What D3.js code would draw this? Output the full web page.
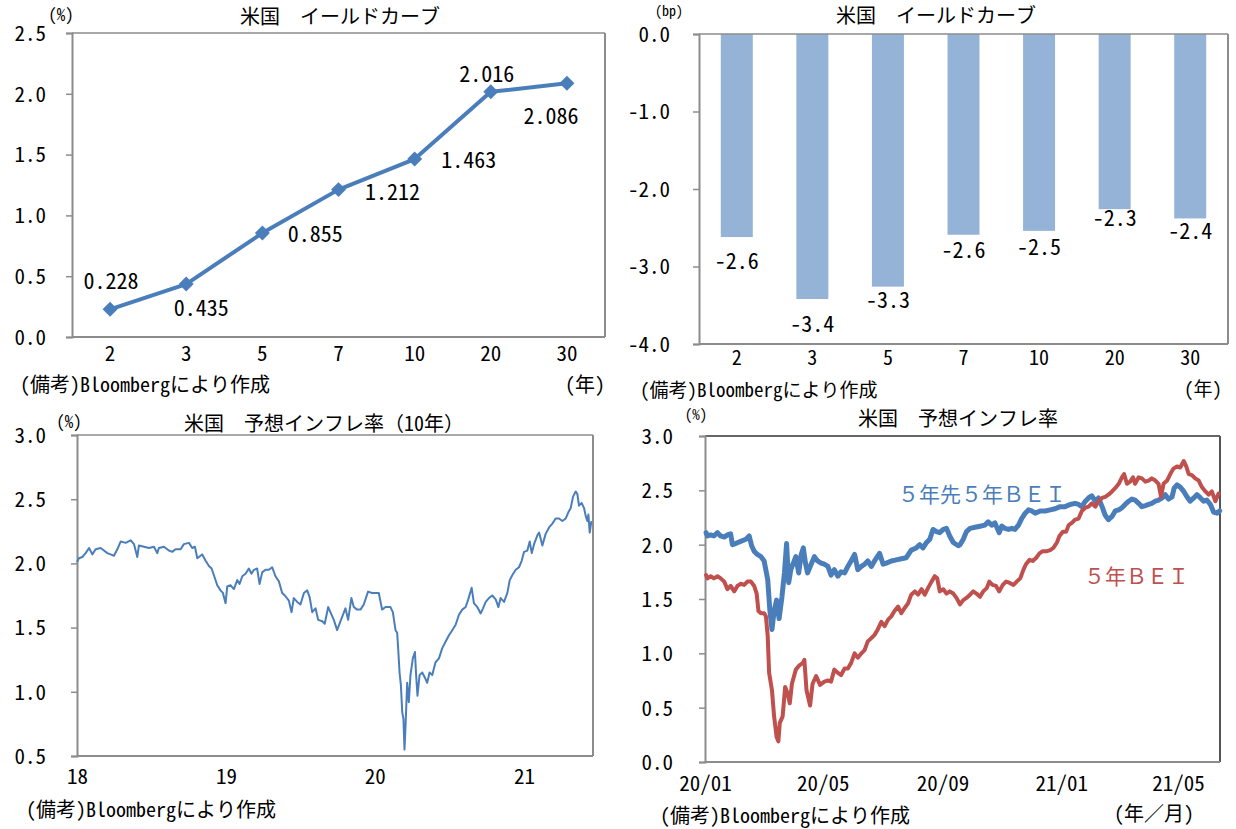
<!DOCTYPE html>
<html>
<head>
<meta charset="utf-8">
<script src="https://cdn.jsdelivr.net/npm/d3@7"></script>
<style>
body { margin: 0; background: #fff; }
svg text { font-family: "Noto Sans Mono CJK JP", "Noto Sans CJK JP", sans-serif; fill: #000; }
</style>
</head>
<body>
<svg id="chart" width="1236" height="829"></svg>
<script>
// ---- data ----
var maturities = ['2', '3', '5', '7', '10', '20', '30'];
var yieldLevel = [0.228, 0.435, 0.855, 1.212, 1.463, 2.016, 2.086];
var yieldChange = [-2.62, -3.42, -3.26, -2.59, -2.54, -2.26, -2.38];
var levelTicks = [0, 0.5, 1, 1.5, 2, 2.5];
var changeTicks = [0, -1, -2, -3, -4];
var bei10Ticks = [0.5, 1, 1.5, 2, 2.5, 3];
var bei5Ticks = [0, 0.5, 1, 1.5, 2, 2.5, 3];
var yearTickLabels = ['18', '19', '20', '21'];
var monthTickLabels = ['20/01', '20/05', '20/09', '21/01', '21/05'];

// 10y breakeven, time in decimal years
var bei10Time = [2018.000, 2018.013, 2018.036, 2018.058, 2018.081, 2018.103, 2018.125, 2018.159, 2018.181, 2018.204,
  2018.226, 2018.248, 2018.271, 2018.293, 2018.327, 2018.360, 2018.383, 2018.405, 2018.416, 2018.450,
  2018.483, 2018.517, 2018.539, 2018.550, 2018.584, 2018.617, 2018.640, 2018.662, 2018.696, 2018.718,
  2018.752, 2018.774, 2018.792, 2018.808, 2018.841, 2018.864, 2018.886, 2018.904, 2018.919, 2018.942,
  2018.964, 2018.980, 2018.998, 2019.009, 2019.031, 2019.054, 2019.076, 2019.092, 2019.110, 2019.132,
  2019.154, 2019.172, 2019.188, 2019.210, 2019.226, 2019.244, 2019.266, 2019.289, 2019.311, 2019.333,
  2019.356, 2019.378, 2019.396, 2019.423, 2019.441, 2019.456, 2019.479, 2019.501, 2019.524, 2019.546,
  2019.562, 2019.580, 2019.602, 2019.620, 2019.647, 2019.664, 2019.687, 2019.702, 2019.725, 2019.747,
  2019.770, 2019.803, 2019.821, 2019.843, 2019.859, 2019.881, 2019.904, 2019.926, 2019.955, 2019.982,
  2020.004, 2020.027, 2020.049, 2020.072, 2020.105, 2020.121, 2020.139, 2020.150, 2020.157, 2020.166,
  2020.175, 2020.184, 2020.192, 2020.199, 2020.206, 2020.217, 2020.228, 2020.239, 2020.255, 2020.269,
  2020.277, 2020.286, 2020.300, 2020.318, 2020.336, 2020.351, 2020.367, 2020.385, 2020.407, 2020.430,
  2020.452, 2020.474, 2020.497, 2020.519, 2020.541, 2020.564, 2020.586, 2020.609, 2020.626, 2020.649,
  2020.664, 2020.687, 2020.709, 2020.725, 2020.743, 2020.765, 2020.787, 2020.810, 2020.828, 2020.843,
  2020.866, 2020.888, 2020.904, 2020.922, 2020.944, 2020.966, 2020.984, 2021.000, 2021.022, 2021.038,
  2021.052, 2021.067, 2021.090, 2021.101, 2021.123, 2021.145, 2021.168, 2021.190, 2021.212, 2021.235,
  2021.257, 2021.280, 2021.298, 2021.313, 2021.329, 2021.347, 2021.358, 2021.369, 2021.387, 2021.403,
  2021.414, 2021.425, 2021.432, 2021.441, 2021.452];
var bei10Value = [2.01, 2.04, 2.05, 2.08, 2.12, 2.07, 2.11, 2.12, 2.10, 2.08,
  2.07, 2.06, 2.11, 2.17, 2.16, 2.18, 2.15, 2.05, 2.14, 2.13,
  2.12, 2.13, 2.08, 2.12, 2.13, 2.10, 2.09, 2.11, 2.11, 2.15,
  2.16, 2.12, 2.13, 2.04, 2.07, 2.02, 1.98, 1.96, 1.91, 1.83,
  1.79, 1.77, 1.69, 1.82, 1.83, 1.80, 1.87, 1.84, 1.90, 1.92,
  1.96, 1.92, 1.95, 1.96, 1.84, 1.93, 1.95, 1.95, 1.97, 1.90,
  1.86, 1.77, 1.75, 1.71, 1.62, 1.73, 1.70, 1.68, 1.77, 1.79,
  1.74, 1.62, 1.65, 1.56, 1.55, 1.53, 1.66, 1.62, 1.56, 1.48,
  1.55, 1.65, 1.56, 1.73, 1.66, 1.64, 1.64, 1.68, 1.78, 1.77,
  1.77, 1.77, 1.64, 1.66, 1.66, 1.62, 1.48, 1.46, 1.33, 1.15,
  1.05, 0.84, 0.79, 0.55, 0.73, 1.07, 0.92, 1.13, 1.26, 1.31,
  1.13, 0.97, 1.13, 1.15, 1.11, 1.07, 1.15, 1.13, 1.23, 1.26,
  1.34, 1.39, 1.44, 1.48, 1.52, 1.60, 1.64, 1.66, 1.72, 1.81,
  1.69, 1.66, 1.61, 1.65, 1.70, 1.73, 1.75, 1.72, 1.66, 1.73,
  1.70, 1.77, 1.87, 1.91, 1.95, 1.97, 2.02, 2.09, 2.10, 2.17,
  2.08, 2.15, 2.22, 2.24, 2.14, 2.23, 2.28, 2.31, 2.35, 2.35,
  2.33, 2.35, 2.40, 2.43, 2.52, 2.56, 2.54, 2.45, 2.47, 2.43,
  2.37, 2.33, 2.38, 2.24, 2.33];

// 5y5y forward breakeven
var fwdTime = [2020.003, 2020.007, 2020.016, 2020.025, 2020.035, 2020.044, 2020.054, 2020.063, 2020.072, 2020.077,
  2020.086, 2020.100, 2020.115, 2020.124, 2020.131, 2020.138, 2020.147, 2020.157, 2020.166, 2020.176,
  2020.182, 2020.188, 2020.194, 2020.201, 2020.208, 2020.216, 2020.223, 2020.229, 2020.235, 2020.241,
  2020.248, 2020.255, 2020.263, 2020.270, 2020.276, 2020.282, 2020.288, 2020.298, 2020.307, 2020.316,
  2020.326, 2020.335, 2020.345, 2020.354, 2020.363, 2020.373, 2020.382, 2020.392, 2020.401, 2020.410,
  2020.420, 2020.429, 2020.439, 2020.448, 2020.457, 2020.467, 2020.476, 2020.490, 2020.500, 2020.509,
  2020.523, 2020.537, 2020.551, 2020.565, 2020.579, 2020.593, 2020.603, 2020.612, 2020.622, 2020.631,
  2020.640, 2020.650, 2020.659, 2020.669, 2020.678, 2020.687, 2020.697, 2020.711, 2020.716, 2020.725,
  2020.734, 2020.744, 2020.758, 2020.772, 2020.786, 2020.795, 2020.805, 2020.814, 2020.826, 2020.833,
  2020.842, 2020.852, 2020.861, 2020.870, 2020.880, 2020.889, 2020.899, 2020.908, 2020.917, 2020.927,
  2020.941, 2020.955, 2020.969, 2020.983, 2020.997, 2021.011, 2021.025, 2021.039, 2021.049, 2021.058,
  2021.068, 2021.077, 2021.086, 2021.096, 2021.105, 2021.115, 2021.124, 2021.133, 2021.143, 2021.152,
  2021.162, 2021.171, 2021.180, 2021.190, 2021.199, 2021.208, 2021.218, 2021.227, 2021.237, 2021.246,
  2021.255, 2021.265, 2021.274, 2021.284, 2021.293, 2021.302, 2021.312, 2021.318, 2021.326, 2021.335,
  2021.345, 2021.354, 2021.363, 2021.373, 2021.382, 2021.392, 2021.401, 2021.410, 2021.420, 2021.429,
  2021.439, 2021.446];
var fwdValue = [2.11, 2.08, 2.09, 2.08, 2.11, 2.08, 2.07, 2.09, 2.10, 2.00,
  2.01, 2.03, 2.05, 2.08, 1.99, 1.94, 1.91, 1.89, 1.85, 1.68,
  1.40, 1.22, 1.39, 1.49, 1.32, 1.52, 1.74, 2.01, 1.65, 1.77,
  1.83, 1.89, 1.74, 1.91, 1.97, 1.83, 1.74, 1.82, 1.89, 1.85,
  1.83, 1.82, 1.80, 1.72, 1.77, 1.71, 1.75, 1.74, 1.80, 1.85,
  1.91, 1.77, 1.80, 1.82, 1.85, 1.80, 1.85, 1.92, 1.82, 1.83,
  1.85, 1.86, 1.87, 1.88, 1.95, 1.97, 2.00, 1.97, 2.02, 2.05,
  2.14, 2.12, 2.11, 2.14, 2.15, 2.08, 2.02, 1.99, 2.00, 2.05,
  2.12, 2.15, 2.16, 2.17, 2.18, 2.21, 2.18, 2.20, 2.11, 2.17,
  2.15, 2.14, 2.15, 2.14, 2.18, 2.24, 2.29, 2.32, 2.31, 2.29,
  2.31, 2.31, 2.32, 2.33, 2.35, 2.35, 2.37, 2.38, 2.37, 2.35,
  2.40, 2.43, 2.45, 2.40, 2.43, 2.35, 2.27, 2.23, 2.26, 2.31,
  2.32, 2.34, 2.37, 2.40, 2.42, 2.41, 2.38, 2.35, 2.36, 2.37,
  2.38, 2.40, 2.41, 2.43, 2.46, 2.42, 2.44, 2.52, 2.55, 2.53,
  2.49, 2.44, 2.40, 2.43, 2.46, 2.43, 2.40, 2.41, 2.37, 2.30,
  2.29, 2.31];

// 5y breakeven
var bei5Time = [2020.003, 2020.007, 2020.016, 2020.025, 2020.035, 2020.044, 2020.054, 2020.063, 2020.072, 2020.082,
  2020.091, 2020.100, 2020.110, 2020.119, 2020.129, 2020.138, 2020.145, 2020.150, 2020.157, 2020.166,
  2020.171, 2020.176, 2020.180, 2020.188, 2020.194, 2020.201, 2020.206, 2020.210, 2020.218, 2020.225,
  2020.232, 2020.238, 2020.244, 2020.255, 2020.265, 2020.274, 2020.279, 2020.285, 2020.295, 2020.302,
  2020.312, 2020.323, 2020.335, 2020.345, 2020.354, 2020.363, 2020.373, 2020.382, 2020.392, 2020.401,
  2020.410, 2020.420, 2020.429, 2020.439, 2020.448, 2020.457, 2020.467, 2020.476, 2020.485, 2020.495,
  2020.504, 2020.514, 2020.523, 2020.532, 2020.542, 2020.551, 2020.561, 2020.570, 2020.579, 2020.589,
  2020.598, 2020.608, 2020.617, 2020.626, 2020.636, 2020.645, 2020.652, 2020.659, 2020.669, 2020.678,
  2020.687, 2020.697, 2020.706, 2020.716, 2020.725, 2020.734, 2020.744, 2020.753, 2020.762, 2020.772,
  2020.781, 2020.791, 2020.798, 2020.807, 2020.817, 2020.826, 2020.836, 2020.845, 2020.854, 2020.866,
  2020.875, 2020.885, 2020.894, 2020.901, 2020.911, 2020.920, 2020.930, 2020.939, 2020.948, 2020.960,
  2020.969, 2020.978, 2020.988, 2020.995, 2021.005, 2021.014, 2021.021, 2021.030, 2021.039, 2021.049,
  2021.058, 2021.068, 2021.077, 2021.086, 2021.096, 2021.105, 2021.115, 2021.124, 2021.133, 2021.143,
  2021.152, 2021.162, 2021.171, 2021.177, 2021.185, 2021.194, 2021.202, 2021.208, 2021.218, 2021.227,
  2021.237, 2021.246, 2021.255, 2021.265, 2021.274, 2021.281, 2021.288, 2021.298, 2021.307, 2021.316,
  2021.326, 2021.335, 2021.345, 2021.352, 2021.359, 2021.368, 2021.377, 2021.387, 2021.396, 2021.406,
  2021.415, 2021.424, 2021.434, 2021.443];
var bei5Value = [1.72, 1.69, 1.71, 1.69, 1.71, 1.69, 1.66, 1.59, 1.62, 1.57,
  1.62, 1.64, 1.63, 1.66, 1.66, 1.62, 1.55, 1.39, 1.37, 1.37,
  1.34, 1.16, 0.82, 0.66, 0.42, 0.23, 0.19, 0.36, 0.42, 0.69,
  0.63, 0.54, 0.72, 0.85, 0.89, 0.91, 0.94, 0.66, 0.52, 0.72,
  0.79, 0.71, 0.74, 0.75, 0.74, 0.85, 0.82, 0.80, 0.86, 0.86,
  0.91, 1.00, 0.96, 1.00, 1.03, 1.11, 1.14, 1.17, 1.22, 1.29,
  1.25, 1.31, 1.34, 1.39, 1.43, 1.37, 1.42, 1.46, 1.54, 1.57,
  1.54, 1.59, 1.54, 1.60, 1.66, 1.71, 1.69, 1.57, 1.59, 1.55,
  1.57, 1.55, 1.51, 1.45, 1.49, 1.51, 1.54, 1.57, 1.55, 1.52,
  1.57, 1.60, 1.66, 1.63, 1.62, 1.57, 1.63, 1.66, 1.65, 1.63,
  1.66, 1.69, 1.77, 1.82, 1.86, 1.85, 1.88, 1.92, 1.94, 1.94,
  1.95, 1.97, 2.02, 2.08, 2.12, 2.12, 2.18, 2.20, 2.23, 2.24,
  2.31, 2.34, 2.35, 2.38, 2.35, 2.40, 2.43, 2.44, 2.46, 2.49,
  2.52, 2.56, 2.62, 2.65, 2.56, 2.58, 2.62, 2.56, 2.62, 2.61,
  2.58, 2.59, 2.61, 2.59, 2.56, 2.44, 2.56, 2.59, 2.65, 2.70,
  2.72, 2.71, 2.77, 2.72, 2.65, 2.64, 2.61, 2.59, 2.53, 2.49,
  2.46, 2.49, 2.40, 2.47];

// ---- layout ----
var AXIS = '#8c8c8c', BLUE = '#4a7ebb', RED = '#c0504d', BAR = '#95b3d7';
var svg = d3.select('#chart');

function decToDate(t) {
  var y = Math.floor(t), a = Date.UTC(y, 0, 1), b = Date.UTC(y + 1, 0, 1);
  return new Date(a + (t - y) * (b - a));
}

function txt(x, y, s, size, anchor, color) {
  return svg.append('text')
    .attr('x', x).attr('y', y)
    .attr('font-size', size)
    .attr('text-anchor', anchor || 'start')
    .attr('dominant-baseline', 'central')
    .style('fill', color || '#000')
    .text(s);
}

function frame(x0, x1, y0, y1, topCol, rightCol) {
  var g = svg.append('g').attr('fill', 'none');
  g.append('line').attr('x1', x0).attr('x2', x1).attr('y1', y0).attr('y2', y0)
    .attr('stroke', topCol || AXIS).attr('stroke-width', 1.5);
  g.append('line').attr('x1', x1).attr('x2', x1).attr('y1', y0).attr('y2', y1)
    .attr('stroke', rightCol || AXIS).attr('stroke-width', 2);
  g.append('line').attr('x1', x0).attr('x2', x1).attr('y1', y1).attr('y2', y1)
    .attr('stroke', AXIS).attr('stroke-width', 2);
}

function leftAxis(y, x0, ticks, pad) {
  var g = svg.append('g')
    .attr('transform', 'translate(' + x0 + ',0)')
    .call(d3.axisLeft(y).tickValues(ticks).tickSize(6).tickPadding(pad)
      .tickFormat(function(v) { return v.toFixed(1); }));
  g.select('.domain').attr('stroke', AXIS).attr('stroke-width', 2);
  g.selectAll('.tick line').attr('stroke', AXIS).attr('stroke-width', 1.5);
  g.selectAll('.tick text').attr('font-size', 21).attr('dy', '0.35em');
}

function bottomLabels(x, y0, ticks, labels, dy, size) {
  var g = svg.append('g')
    .attr('transform', 'translate(0,' + y0 + ')')
    .call(d3.axisBottom(x).tickValues(ticks).tickSize(0).tickPadding(dy)
      .tickFormat(function(d, i) { return labels[i]; }));
  g.select('.domain').remove();
  g.selectAll('.tick text').attr('font-size', size || 21);
}

// ---- panel 1: yield curve level ----
(function() {
  var L = 72, R = 605, T = 33, B = 337;
  var x = d3.scaleBand().domain(maturities).range([L, R]);
  var y = d3.scaleLinear().domain([0, 2.5]).range([B, T]);
  var cx = function(d, i) { return x(maturities[i]) + x.bandwidth() / 2; };
  var labelNudge = [[1, -30], [15, 22], [53, -1], [54, 0], [54, -1], [-4, -20], [-16, 31]];

  frame(L, R, T, B);
  leftAxis(y, L, levelTicks, 20);
  bottomLabels(x, B, maturities, maturities, 9);

  svg.append('path').datum(yieldLevel)
    .attr('d', d3.line().x(cx).y(function(d) { return y(d); }))
    .attr('fill', 'none').attr('stroke', BLUE).attr('stroke-width', 4)
    .attr('stroke-linejoin', 'round');

  svg.selectAll('.p1m').data(yieldLevel).enter().append('path')
    .attr('class', 'p1m')
    .attr('d', d3.symbol(d3.symbolSquare, 112))
    .attr('transform', function(d, i) { return 'translate(' + cx(d, i) + ',' + y(d) + ') rotate(45)'; })
    .attr('fill', BLUE);

  yieldLevel.forEach(function(d, i) {
    txt(cx(d, i) + labelNudge[i][0], y(d) + labelNudge[i][1], d.toFixed(3), 22, 'middle');
  });

  txt(340, 15, '米国　イールドカーブ', 20, 'middle');
  txt(61, 13, '(%)', 17, 'middle');
  txt(20, 383, '(備考)Bloombergにより作成', 20, 'start');
  txt(585, 383, '(年)', 20, 'middle');
})();

// ---- panel 2: yield change (bp) ----
(function() {
  var L = 699, R = 1228, T = 34, B = 344;
  var band = d3.scaleBand().domain(maturities).range([L, R]);
  var y = d3.scaleLinear().domain([-4, 0]).range([B, T]);
  var labelGap = [22, 23, 11, 13, 14, 7, 11];

  svg.selectAll('.bar').data(yieldChange).enter().append('rect')
    .attr('class', 'bar')
    .attr('x', function(d, i) { return band(maturities[i]) + (band.bandwidth() - 32) / 2; })
    .attr('width', 32)
    .attr('y', y(0))
    .attr('height', function(d) { return y(d) - y(0); })
    .attr('fill', BAR);

  frame(L, R, T, B);
  leftAxis(y, L, changeTicks, 23);
  bottomLabels(band, B, maturities, maturities, 7, 20);

  yieldChange.forEach(function(d, i) {
    txt(band(maturities[i]) + band.bandwidth() / 2, y(d) + labelGap[i], d.toFixed(1), 22, 'middle');
  });

  txt(936, 14, '米国　イールドカーブ', 20, 'middle');
  txt(669, 10, '(bp)', 14, 'middle');
  txt(640, 388, '(備考)Bloombergにより作成', 19, 'start');
  txt(1203, 387, '(年)', 19, 'middle');
})();

// ---- panel 3: 10y breakeven ----
(function() {
  var L = 77, R = 593, T = 435, B = 756;
  var x = d3.scaleUtc().domain([decToDate(2018), decToDate(2021.463)]).range([L, R]);
  var y = d3.scaleLinear().domain([0.5, 3]).range([B, T]);
  var yearTicks = yearTickLabels.map(function(s) { return new Date(Date.UTC(2000 + +s, 0, 1)); });

  frame(L, R, T, B);
  leftAxis(y, L, bei10Ticks, 25);
  bottomLabels(x, B, yearTicks, yearTickLabels, 13);

  svg.append('path').datum(bei10Time)
    .attr('d', d3.line()
      .x(function(t) { return x(decToDate(t)); })
      .y(function(t, i) { return y(bei10Value[i]); }))
    .attr('fill', 'none').attr('stroke', BLUE).attr('stroke-width', 2)
    .attr('stroke-linejoin', 'round');

  txt(324, 422, '米国　予想インフレ率（10年）', 20, 'middle');
  txt(69, 420, '(%)', 17, 'middle');
  txt(26, 808, '(備考)Bloombergにより作成', 20, 'start');
})();

// ---- panel 4: 5y and 5y5y breakeven ----
(function() {
  var L = 705, R = 1220, T = 436, B = 762;
  var x = d3.scaleUtc().domain([decToDate(2020), decToDate(2021.447)]).range([L, R]);
  var y = d3.scaleLinear().domain([0, 3]).range([B, T]);
  var monthTicks = monthTickLabels.map(function(s) {
    var p = s.split('/');
    return new Date(Date.UTC(2000 + +p[0], +p[1] - 1, 1));
  });

  frame(L, R, T, B, '#333', '#555');
  leftAxis(y, L, bei5Ticks, 26);
  bottomLabels(x, B, monthTicks, monthTickLabels, 14);

  function series(times, values, col, w) {
    svg.append('path').datum(times)
      .attr('d', d3.line()
        .x(function(t) { return x(decToDate(t)); })
        .y(function(t, i) { return y(values[i]); }))
      .attr('fill', 'none').attr('stroke', col).attr('stroke-width', w)
      .attr('stroke-linejoin', 'round').attr('stroke-linecap', 'round');
  }
  series(fwdTime, fwdValue, BLUE, 5);
  series(bei5Time, bei5Value, RED, 4);

  txt(898, 493, '５年先５年ＢＥＩ', 21, 'start', BLUE);
  txt(1084, 575, '５年ＢＥＩ', 21, 'start', RED);

  txt(958, 417, '米国　予想インフレ率', 20, 'middle');
  txt(696, 413, '(%)', 15, 'middle');
  txt(660, 814, '(備考)Bloombergにより作成', 20, 'start');
  txt(1154, 812, '(年／月)', 20, 'middle');
})();
</script>
</body>
</html>
